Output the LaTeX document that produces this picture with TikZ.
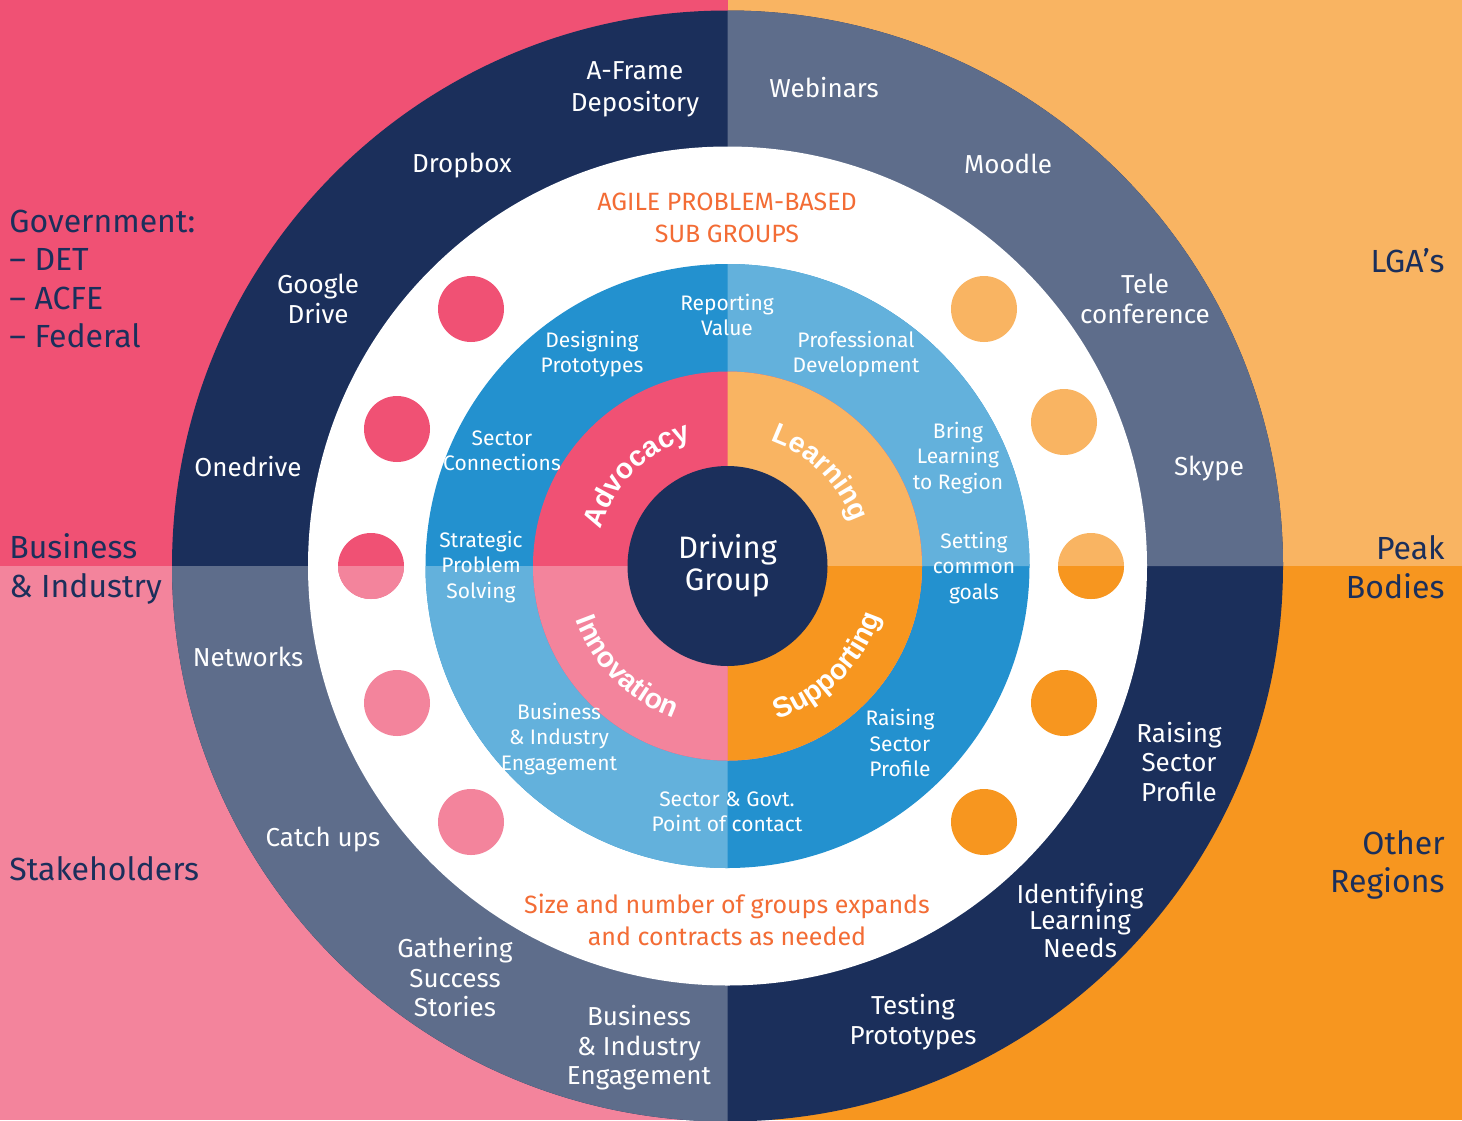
\documentclass[tikz,border=0pt]{standalone}
\usepackage{fontspec}
\setmainfont{Fira Sans}
\newfontfamily\boldfont{Liberation Sans}
\usetikzlibrary{decorations.text}
\definecolor{cpink}{HTML}{F05174}
\definecolor{clpink}{HTML}{F3849C}
\definecolor{clorange}{HTML}{F9B462}
\definecolor{corange}{HTML}{F7961F}
\definecolor{cnavy}{HTML}{1B2F5B}
\definecolor{cslate}{HTML}{5E6D8B}
\definecolor{cblue}{HTML}{2391CF}
\definecolor{clblue}{HTML}{63B1DC}
\definecolor{ctext}{HTML}{F36C35}
\begin{document}
\begin{tikzpicture}[x=0.5pt,y=-0.5pt,
  outer/.style={text=white,align=center,font=\fontsize{13}{14.75}\selectfont,inner sep=0pt},
  inlab/.style={text=white,align=center,font=\fontsize{10.5}{12.75}\selectfont,inner sep=0pt},
  side/.style={text=cnavy,font=\fontsize{16}{19.25}\selectfont,inner sep=0pt},
  note/.style={text=ctext,align=center,font=\fontsize{12.5}{16}\selectfont,inner sep=0pt},
  dot/.style={circle,minimum size=33pt,inner sep=0pt,draw=none},
  curved/.style={decorate,decoration={text along path,text align=center,
     text={|\boldfont\bfseries\fontsize{14.2}{14.2}\selectfont\color{white}|#1}}}]
\useasboundingbox (0,0) rectangle (1462,1120);
\coordinate (c) at (727.5,566);
% backgrounds
\fill[cpink] (0,0) rectangle (727.5,1120);
\fill[clorange] (727.5,0) rectangle (1462,1120);
\fill[clpink] (0,566) rectangle (727.5,1120);
\fill[corange] (727.5,566) rectangle (1462,1120);
% outer ring
\fill[cnavy] (c) circle[radius=277.75pt];
\fill[cslate] (c) -- ++(0:277.75pt) arc[start angle=0,end angle=90,radius=277.75pt] -- cycle;
\fill[cslate] (c) -- ++(180:277.75pt) arc[start angle=180,end angle=270,radius=277.75pt] -- cycle;
% white ring
\fill[white] (c) circle[radius=209.75pt];
% dots
\node[dot,fill=cpink] (d1) at (471,309) {};
\node[dot,fill=cpink] (d2) at (397,429) {};
\node[dot,fill=cpink] (d3) at (371,566) {};
\begin{scope}
\clip (300,566) rectangle (440,620);
\node[dot,fill=clpink] (d3b) at (371,566) {};
\end{scope}
\node[dot,fill=clpink] (d4) at (397,703) {};
\node[dot,fill=clpink] (d5) at (471,822) {};
\node[dot,fill=clorange] (d6) at (984,309) {};
\node[dot,fill=clorange] (d7) at (1064,422) {};
\node[dot,fill=clorange] (d8) at (1091,566) {};
\begin{scope}
\clip (1020,566) rectangle (1160,620);
\node[dot,fill=corange] (d8b) at (1091,566) {};
\end{scope}
\node[dot,fill=corange] (d9) at (1064,703) {};
\node[dot,fill=corange] (d10) at (984,822) {};
% blue ring
\fill[cblue] (c) circle[radius=151pt];
\fill[clblue] (c) -- ++(0:151pt) arc[start angle=0,end angle=90,radius=151pt] -- cycle;
\fill[clblue] (c) -- ++(180:151pt) arc[start angle=180,end angle=270,radius=151pt] -- cycle;
% middle ring
\fill[cpink] (c) circle[radius=97.25pt];
\fill[clorange] (c) -- ++(-90:97.25pt) arc[start angle=-90,end angle=90,radius=97.25pt] -- cycle;
\fill[corange] (c) -- ++(-90:97.25pt) arc[start angle=-90,end angle=0,radius=97.25pt] -- cycle;
\fill[clpink] (c) -- ++(180:97.25pt) arc[start angle=180,end angle=270,radius=97.25pt] -- cycle;
% centre
\node[circle,fill=cnavy,minimum size=100pt,inner sep=0pt,text=white,align=center,
  font=\fontsize{15.5}{16}\selectfont] (drive) at (c) {Driving\\Group};
% curved labels
\path[curved=Advocacy] ([shift={(180:66pt)}]c) arc[start angle=180,end angle=90,radius=66pt];
\path[curved=Learning] ([shift={(90:66pt)}]c) arc[start angle=90,end angle=0,radius=66pt];
\path[curved=Innovation] ([shift={(180:80.5pt)}]c) arc[start angle=180,end angle=270,radius=80.5pt];
\path[curved=Supporting] ([shift={(270:80.5pt)}]c) arc[start angle=270,end angle=360,radius=80.5pt];
% outer ring labels
\node[outer,font=\fontsize{13}{16}\selectfont] (af) at (635,89) {A-Frame\\Depository};
\node[outer] (dropbox) at (462,166) {Dropbox};
\node[outer] (gdrive) at (318,299) {Google\\Drive};
\node[outer] (onedrive) at (248,467) {Onedrive};
\node[outer] (webinars) at (824,88) {Webinars};
\node[outer] (moodle) at (1008,164) {Moodle};
\node[outer] (tele) at (1145,299) {Tele\\conference};
\node[outer] (skype) at (1209,469) {Skype};
\node[outer] (networks) at (248,657) {Networks};
\node[outer] (catchups) at (323,840) {Catch ups};
\node[outer] (gathering) at (455,977) {Gathering\\Success\\Stories};
\node[outer] (bie) at (639,1048) {Business\\\& Industry\\Engagement};
\node[outer] (testing) at (913,1022) {Testing\\Prototypes};
\node[outer,font=\fontsize{13}{13.5}\selectfont] (identify) at (1080,920) {Identifying\\Learning\\Needs};
\node[outer] (raiseo) at (1179,762) {Raising\\Sector\\Profile};
% side labels
\node[side,anchor=west,align=left] (gov) at (9,279) {Government:\\– DET\\– ACFE\\– Federal};
\node[side,anchor=west,align=left] (bi) at (9,569) {Business\\\& Industry};
\node[side,anchor=west] (stake) at (9,869) {Stakeholders};
\node[side,anchor=east] (lga) at (1445,261) {LGA’s};
\node[side,anchor=east,align=right] (peak) at (1445,567) {Peak\\Bodies};
\node[side,anchor=east,align=right] (other) at (1445,865) {Other\\Regions};
% orange notes
\node[note] (agile) at (727,218) {AGILE PROBLEM-BASED\\SUB GROUPS};
\node[note] (size) at (727,920) {Size and number of groups expands\\and contracts as needed};
% blue ring labels
\node[inlab] (rv) at (727,315) {Reporting\\Value};
\node[inlab] (dp) at (592,354) {Designing\\Prototypes};
\node[inlab] (pd) at (856,354) {Professional\\Development};
\node[inlab] (sc) at (502,451) {Sector\\Connections};
\node[inlab] (bl) at (958,458) {Bring\\Learning\\to Region};
\node[inlab] (sp) at (481,567) {Strategic\\Problem\\Solving};
\node[inlab] (sg) at (974,568) {Setting\\common\\goals};
\node[inlab] (bie2) at (559,739) {Business\\\& Industry\\Engagement};
\node[inlab] (rsp) at (900,743) {Raising\\Sector\\Profile};
\node[inlab] (sgp) at (727,812) {Sector \& Govt.\\Point of contact};
\end{tikzpicture}
\end{document}
